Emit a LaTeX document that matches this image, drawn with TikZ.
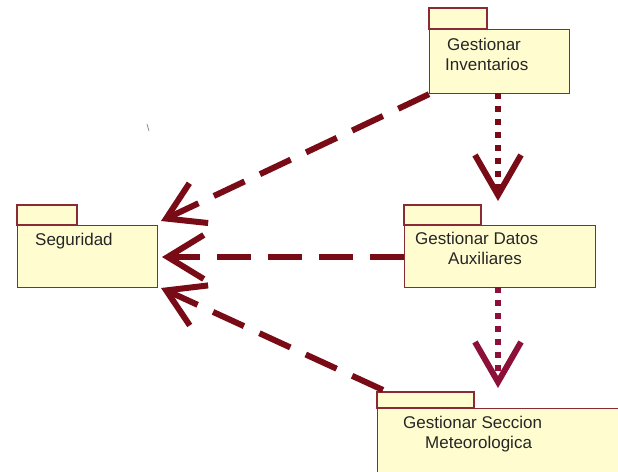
\documentclass[tikz,border=0pt]{standalone}
\usepackage{fontspec}
\setmainfont{Liberation Sans}
\usetikzlibrary{arrows.meta}
\definecolor{pkgedge}{HTML}{8A2A36}
\definecolor{pkgfill}{HTML}{FFFDD0}
\definecolor{deplink}{HTML}{780B16}
\definecolor{deplinkb}{HTML}{8C1038}
\tikzset{
  pkgtab/.style={draw=pkgedge, fill=pkgfill, line width=1.2pt},
  pkgbody/.style={draw=pkgedge, fill=pkgfill, line width=1.2pt, inner sep=0pt, anchor=north west},
  pkglabel/.style={anchor=base west, inner sep=0pt, font=\fontsize{17}{20}\selectfont, text=black!85},
  usedep/.style={draw=deplink, line width=6pt, dash pattern=on 34pt off 17pt,
    -{Straight Barb[length=36pt,width=44pt,line width=6pt]}},
  incdep/.style={draw=deplink, line width=6pt, dash pattern=on 6pt off 7pt,
    -{Straight Barb[length=40pt,width=46pt,line width=6pt]}},
}
\begin{document}
\begin{tikzpicture}[x=1pt, y=-1pt]
\useasboundingbox (0,0) rectangle (618,471);
\fill[white] (0,0) rectangle (618,471);

% package: Gestionar Inventarios
\draw[pkgtab] (429,8) rectangle (487,29);
\node[pkgbody, minimum width=140pt, minimum height=64pt] (inv) at (429,29) {};
\node[pkglabel] (invA) at (447,50) {Gestionar};
\node[pkglabel] (invB) at (445,70) {Inventarios};

% package: Seguridad
\draw[pkgtab] (17,205) rectangle (77,225);
\node[pkgbody, minimum width=140pt, minimum height=62pt] (seg) at (17,225) {};
\node[pkglabel] (segA) at (35,245) {Seguridad};

% package: Gestionar Datos Auxiliares
\draw[pkgtab] (404,205) rectangle (481,225);
\node[pkgbody, minimum width=191pt, minimum height=62pt] (aux) at (404,225) {};
\node[pkglabel] (auxA) at (415,244) {Gestionar Datos};
\node[pkglabel] (auxB) at (448,264) {Auxiliares};

% package: Gestionar Seccion Meteorologica (runs past the page edge)
\draw[pkgtab] (377,392) rectangle (474,408);
\node[pkgbody, minimum width=260pt, minimum height=90pt] (met) at (377,408) {};
\node[pkglabel] (metA) at (403,428) {Gestionar Seccion};
\node[pkglabel] (metB) at (425,448) {Meteorologica};

% arrow tips and line ends
\coordinate (segTop) at (161,221);
\coordinate (segMid) at (162,257);
\coordinate (segLow) at (161,288);
\coordinate (invOut) at (498,93);
\coordinate (auxIn) at (498,201);
\coordinate (auxOut) at (498,287);
\coordinate (metIn) at (498,388);
\coordinate (metOut) at (383,390);

% dependencies on Seguridad
\draw[usedep] (inv.south west) -- (segTop);
\draw[usedep] (aux.west |- segMid) -- (segMid);
\draw[usedep] (metOut) -- (segLow);

% vertical dependencies
\draw[incdep] (invOut) -- (auxIn);
\draw[incdep, draw=deplinkb] (auxOut) -- (metIn);

% small stray stroke
\draw[black!45, line width=0.8pt] (147,124) -- (149,131);
\end{tikzpicture}
\end{document}
